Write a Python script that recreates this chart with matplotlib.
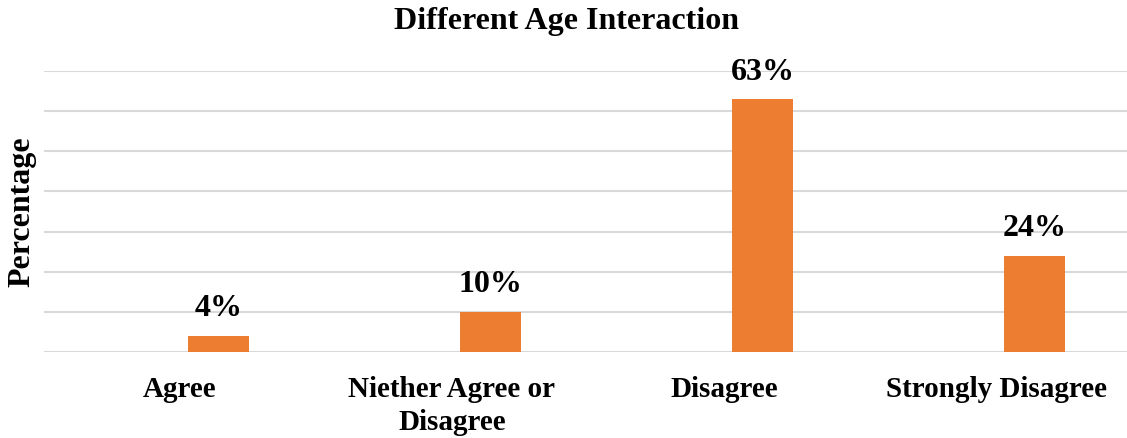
import matplotlib.pyplot as plt
import numpy as np

categories = ["Agree", "Niether Agree or\nDisagree", "Disagree", "Strongly Disagree"]
percentages = [4, 10, 63, 24]

plt.rcParams['font.family'] = ['Liberation Serif', 'DejaVu Serif']
plt.rcParams['font.weight'] = 'bold'

fig = plt.figure(figsize=(11.27, 4.38), dpi=100)
ax = fig.add_axes([44 / 1127, 1 - 352 / 438, 1088 / 1127, 281 / 438])

x = np.arange(len(categories))
# bars sit right of the category centre, like a clustered column with an empty partner
bars = ax.bar(x + 0.143, percentages, width=0.224, color='#ED7D31', zorder=3)
for b, v in zip(bars, percentages):
    ax.annotate(f"{v}%", (b.get_x() + b.get_width() / 2, v),
                xytext=(0, 9), textcoords='offset points',
                ha='center', va='bottom', fontsize=23, fontweight='bold')

ax.set_xlim(-0.5, 3.5)
ax.set_ylim(0, 70)
ax.set_yticks(np.arange(0, 71, 10))
ax.set_yticklabels([])
ax.tick_params(axis='y', length=0)
ax.grid(axis='y', color='#D9D9D9', linewidth=1.5, zorder=0)

ax.set_xticks(x)
ax.set_xticklabels(categories, fontsize=21, fontweight='bold', linespacing=1.3)
ax.tick_params(axis='x', length=0, pad=17)

for s in ax.spines.values():
    s.set_visible(False)

fig.text(22 / 1127, 1 - 212 / 438, "Percentage", rotation=90, ha='center', va='center',
         fontsize=23, fontweight='bold')
fig.text(566 / 1127, 1 - 21 / 438, "Different Age Interaction", ha='center', va='center',
         fontsize=23, fontweight='bold')

fig.savefig('out.png', dpi=100)
